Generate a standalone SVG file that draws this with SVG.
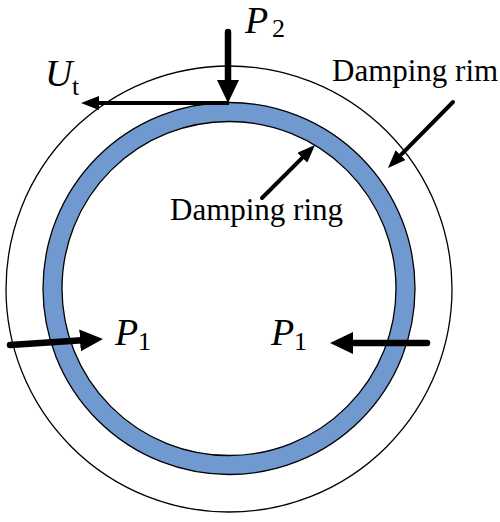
<svg xmlns="http://www.w3.org/2000/svg" width="500" height="522" viewBox="0 0 500 522">
<style>
text{font-family:'Liberation Serif','Times New Roman','DejaVu Serif',serif;fill:#000}
.var{font-style:italic;font-size:38px}
.sub{font-size:26px}
.txt{font-size:31px}
.thick{stroke:#000;stroke-width:6.5;stroke-linecap:round;fill:none}
.thin{stroke:#000;stroke-width:4;stroke-linecap:round;fill:none}
</style>
<defs>
<marker id="bigHead" viewBox="0 0 23 22" refX="2" refY="11" markerWidth="23" markerHeight="22" markerUnits="userSpaceOnUse" orient="auto">
<path d="M0,0 L23,11 L0,22 z" fill="#000"/>
</marker>
<marker id="smallHead" viewBox="0 0 18 14" refX="2" refY="7" markerWidth="18" markerHeight="14" markerUnits="userSpaceOnUse" orient="auto">
<path d="M0,0 L18,7 L0,14 z" fill="#000"/>
</marker>
</defs>
<g id="damping-rim">
<circle cx="229" cy="289" r="223" fill="#fff" stroke="#000" stroke-width="1.3"/>
</g>
<g id="damping-ring">
<circle cx="229" cy="288.5" r="186" fill="#7099cf" stroke="#000" stroke-width="1.3"/>
<circle cx="229" cy="288.5" r="167" fill="#fff" stroke="#000" stroke-width="1.3"/>
</g>
<g id="connectors">
<line class="thick" x1="228" y1="32" x2="228" y2="82" marker-end="url(#bigHead)"/>
<line class="thin" x1="229" y1="103" x2="97" y2="103" marker-end="url(#smallHead)" style="stroke-linecap:butt"/>
<line class="thick" x1="10" y1="345" x2="82" y2="340.3" marker-end="url(#bigHead)"/>
<line class="thick" x1="427" y1="343" x2="351" y2="343" marker-end="url(#bigHead)"/>
<line class="thin" x1="453" y1="102" x2="399.2" y2="156.6" marker-end="url(#smallHead)"/>
<line class="thin" x1="262" y1="198" x2="303.7" y2="156.3" marker-end="url(#smallHead)"/>
</g>
<g id="label-P2">
<text class="var" x="245" y="33" font-family="Liberation Serif, serif">P</text>
<text class="sub" x="272" y="37" font-family="Liberation Serif, serif">2</text>
</g>
<g id="label-Ut">
<text class="var" x="45" y="86" font-family="Liberation Serif, serif">U</text>
<text class="sub" x="72" y="95" font-family="Liberation Serif, serif">t</text>
</g>
<g id="label-P1-left">
<text class="var" x="115" y="345" font-family="Liberation Serif, serif">P</text>
<text class="sub" x="138" y="350" font-family="Liberation Serif, serif">1</text>
</g>
<g id="label-P1-right">
<text class="var" x="271" y="345" font-family="Liberation Serif, serif">P</text>
<text class="sub" x="294" y="350" font-family="Liberation Serif, serif">1</text>
</g>
<g id="label-rim">
<text class="txt" x="332" y="81" font-family="Liberation Serif, serif">Damping rim</text>
</g>
<g id="label-ring">
<text class="txt" x="170" y="220" font-family="Liberation Serif, serif">Damping ring</text>
</g>
</svg>
